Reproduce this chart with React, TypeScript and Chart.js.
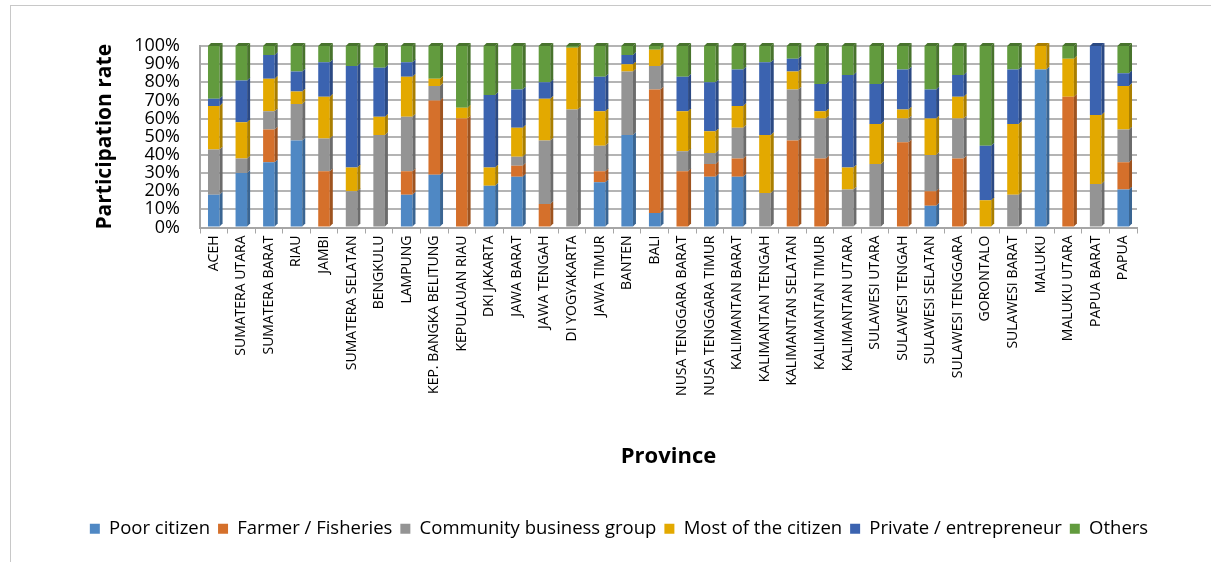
import React, { useEffect, useRef } from "react";
import { Chart, registerables } from "chart.js";

Chart.register(...registerables);

const provinces = [
  "ACEH", "SUMATERA UTARA", "SUMATERA BARAT", "RIAU", "JAMBI", "SUMATERA SELATAN",
  "BENGKULU", "LAMPUNG", "KEP. BANGKA BELITUNG", "KEPULAUAN RIAU", "DKI JAKARTA",
  "JAWA BARAT", "JAWA TENGAH", "DI YOGYAKARTA", "JAWA TIMUR", "BANTEN", "BALI",
  "NUSA TENGGARA BARAT", "NUSA TENGGARA TIMUR", "KALIMANTAN BARAT", "KALIMANTAN TENGAH",
  "KALIMANTAN SELATAN", "KALIMANTAN TIMUR", "KALIMANTAN UTARA", "SULAWESI UTARA",
  "SULAWESI TENGAH", "SULAWESI SELATAN", "SULAWESI TENGGARA", "GORONTALO",
  "SULAWESI BARAT", "MALUKU", "MALUKU UTARA", "PAPUA BARAT", "PAPUA",
];

const poorCitizen = [18, 30, 36, 48, 0, 0, 0, 18, 29, 0, 23, 28, 0, 0, 25, 51, 8, 0, 28, 28, 0, 0, 0, 0, 0, 0, 12, 0, 0, 0, 87, 0, 0, 21];
const farmerFisheries = [0, 0, 18, 0, 31, 0, 0, 13, 41, 60, 0, 6, 13, 0, 6, 0, 68, 31, 7, 10, 0, 48, 38, 0, 0, 47, 8, 38, 0, 0, 0, 72, 0, 15];
const communityBusiness = [25, 8, 10, 20, 18, 20, 51, 30, 8, 0, 0, 5, 35, 65, 14, 35, 13, 11, 6, 17, 19, 28, 22, 21, 35, 13, 20, 22, 0, 18, 0, 0, 24, 18];
const mostCitizen = [24, 20, 18, 7, 23, 13, 10, 22, 4, 6, 10, 16, 23, 34, 19, 4, 9, 22, 12, 12, 32, 10, 4, 12, 22, 5, 20, 12, 15, 39, 13, 21, 38, 24];
const privateEntrepreneur = [4, 23, 13, 11, 19, 56, 27, 8, 0, 0, 40, 21, 9, 0, 19, 5, 0, 19, 27, 20, 40, 7, 15, 51, 22, 22, 16, 12, 30, 30, 0, 0, 38, 7];
const others = [29, 19, 5, 14, 9, 11, 12, 9, 18, 34, 27, 24, 20, 1, 17, 5, 2, 17, 20, 13, 9, 7, 21, 16, 21, 13, 24, 16, 55, 13, 0, 7, 0, 15];

const seriesNames = ["Poor citizen", "Farmer / Fisheries", "Community business group", "Most of the citizen", "Private / entrepreneur", "Others"];
const seriesValues = [poorCitizen, farmerFisheries, communityBusiness, mostCitizen, privateEntrepreneur, others];
const frontColors = ["#4F88C4", "#D5702B", "#949494", "#E3A900", "#3B63B0", "#629B3E"];
const sideColors = ["#3A6592", "#9E531F", "#6C6C6C", "#A97E00", "#2B4983", "#48732D"];

const yTicks = [0, 10, 20, 30, 40, 50, 60, 70, 80, 90, 100];

const FONT = "'Open Sans', 'Liberation Sans', sans-serif";
const DEPTH = 3;

const depthPlugin = {
  id: "barDepth",
  afterDatasetsDraw(chart: any) {
    const ctx = chart.ctx;
    const n = chart.data.labels.length;
    ctx.save();
    for (let i = 0; i < n; i++) {
      let topEl: any = null;
      let topIdx = -1;
      for (let d = 0; d < chart.data.datasets.length; d++) {
        const meta = chart.getDatasetMeta(d);
        const el: any = meta.data[i];
        const v = chart.data.datasets[d].data[i];
        if (!el || !v) continue;
        const right = el.x + el.width / 2;
        const top = Math.min(el.y, el.base);
        const bottom = Math.max(el.y, el.base);
        ctx.fillStyle = sideColors[d];
        ctx.beginPath();
        ctx.moveTo(right, bottom);
        ctx.lineTo(right, top);
        ctx.lineTo(right + DEPTH, top - DEPTH);
        ctx.lineTo(right + DEPTH, bottom - DEPTH);
        ctx.closePath();
        ctx.fill();
        topEl = el;
        topIdx = d;
      }
      if (topEl) {
        const left = topEl.x - topEl.width / 2;
        const right = topEl.x + topEl.width / 2;
        const top = Math.min(topEl.y, topEl.base);
        ctx.fillStyle = sideColors[topIdx];
        ctx.beginPath();
        ctx.moveTo(left, top);
        ctx.lineTo(right, top);
        ctx.lineTo(right + DEPTH, top - DEPTH);
        ctx.lineTo(left + DEPTH, top - DEPTH);
        ctx.closePath();
        ctx.fill();
      }
    }
    ctx.restore();
  },
};

export default function App() {
  const canvasRef = useRef<HTMLCanvasElement>(null);

  useEffect(() => {
    document.body.style.margin = "0";
    const canvas = canvasRef.current;
    if (!canvas) return;
    const chart = new Chart(canvas, {
      type: "bar",
      data: {
        labels: provinces,
        datasets: seriesNames.map((name, k) => ({
          label: name,
          data: seriesValues[k],
          backgroundColor: frontColors[k],
          borderWidth: 0,
          barPercentage: 0.42,
          categoryPercentage: 1,
          yAxisID: "y",
        })),
      },
      options: {
        responsive: false,
        animation: false,
        layout: { padding: { top: 46, left: 27, right: 0, bottom: 14 } },
        plugins: {
          legend: {
            position: "bottom",
            labels: {
              boxWidth: 10,
              boxHeight: 10,
              padding: 8,
              color: "#000",
              font: { family: FONT, size: 18.5 },
            },
          },
          tooltip: { enabled: false },
        },
        scales: {
          x: {
            stacked: true,
            afterFit: (axis: any) => {
              axis.height = 284;
            },
            grid: {
              display: true,
              drawOnChartArea: false,
              drawTicks: true,
              tickLength: 6,
              color: "#a6a6a6",
              lineWidth: 1,
              offset: true,
            },
            border: { display: true, color: "#a6a6a6", width: 2 },
            ticks: {
              autoSkip: false,
              minRotation: 90,
              maxRotation: 90,
              color: "#000",
              padding: 2,
              font: { family: FONT, size: 14 },
            },
            title: {
              display: true,
              text: "Province",
              color: "#000",
              font: { family: FONT, size: 22, weight: "bold" },
              padding: { top: 0, bottom: 42 },
            },
          },
          y: {
            stacked: true,
            min: 0,
            max: 100,
            afterFit: (axis: any) => {
              axis.width = 173;
            },
            afterBuildTicks: (axis: any) => {
              axis.ticks = yTicks.map((v) => ({ value: v }));
            },
            ticks: {
              autoSkip: false,
              color: "#000",
              padding: 20,
              font: { family: FONT, size: 18 },
              callback: (v: any) => v + "%",
            },
            grid: { color: "#b4b4b4", lineWidth: 2, drawTicks: false },
            border: { display: true, color: "#a6a6a6", width: 2 },
            title: {
              display: true,
              text: "Participation rate",
              color: "#000",
              font: { family: FONT, size: 21, weight: "bold" },
              padding: { top: 65, bottom: 0 },
            },
          },
          yRight: {
            position: "right",
            display: true,
            min: 0,
            max: 100,
            afterFit: (axis: any) => {
              axis.width = 74;
            },
            grid: { drawOnChartArea: false, drawTicks: false },
            border: { display: false },
            ticks: { display: false },
          },
        },
      },
      plugins: [depthPlugin],
    });
    return () => chart.destroy();
  }, []);

  return (
    <div style={{ position: "relative", width: 1211, height: 562, overflow: "hidden", background: "#fff" }}>
      <div
        style={{
          position: "absolute",
          left: 10,
          top: 5,
          width: 1220,
          height: 580,
          border: "1px solid #c8c8c8",
          boxSizing: "border-box",
        }}
      />
      <canvas ref={canvasRef} width={1211} height={562} style={{ position: "absolute", left: 0, top: 0 }} />
    </div>
  );
}
